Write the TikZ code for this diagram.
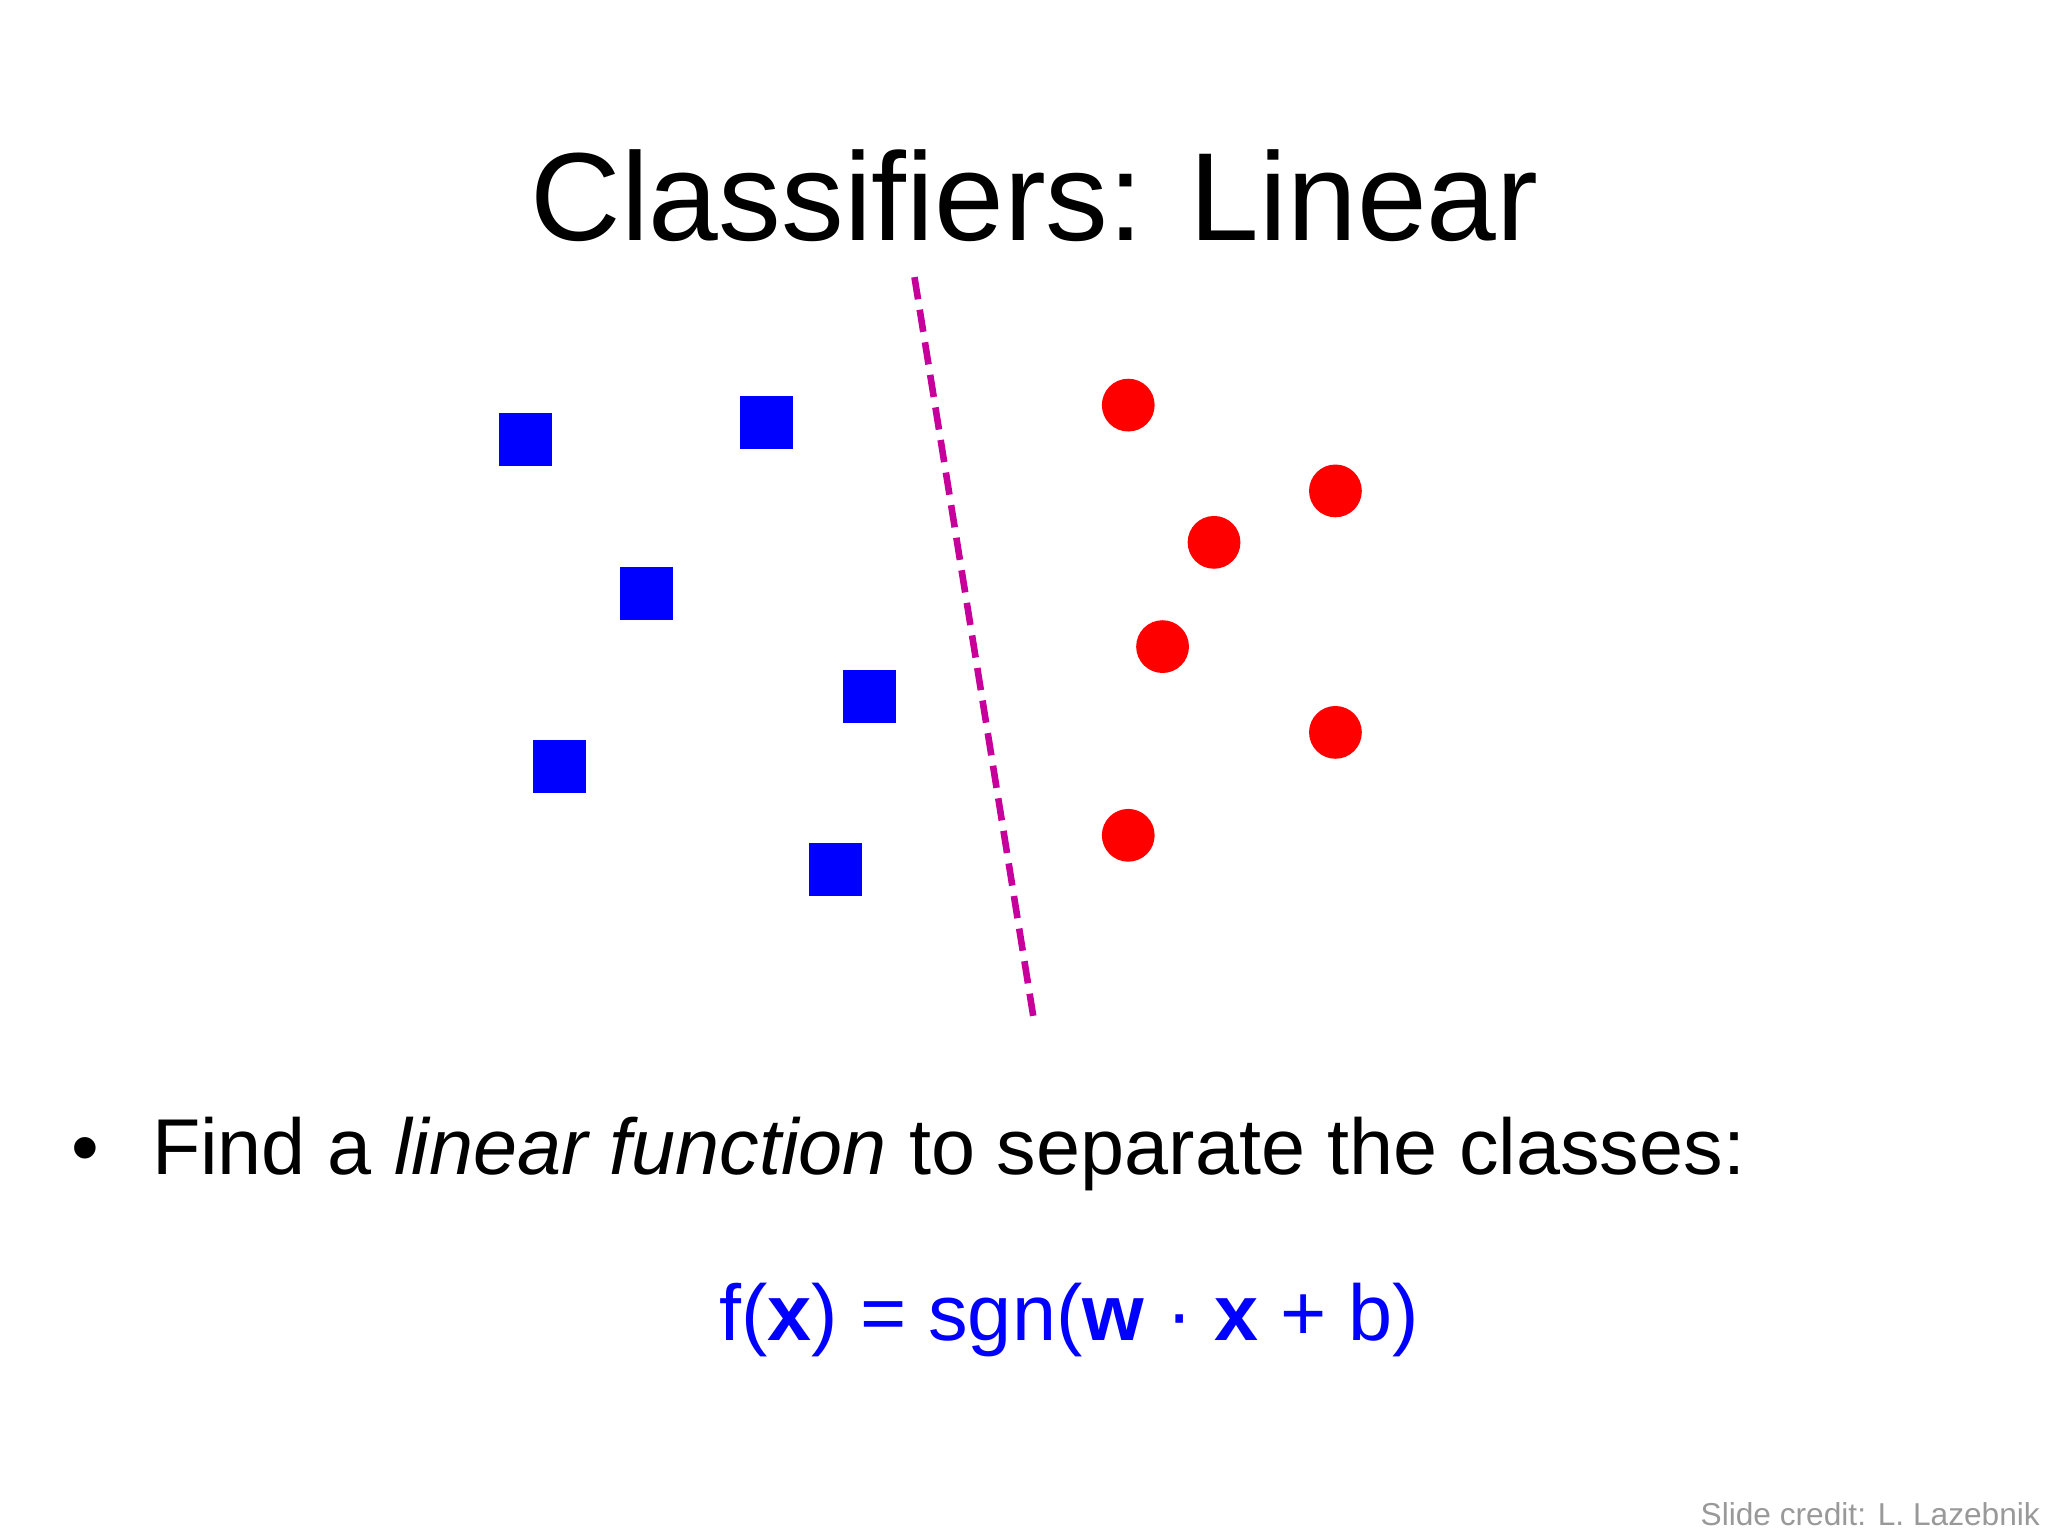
\documentclass[tikz,border=0pt]{standalone}
\usepackage{fontspec}
\setmainfont{Liberation Sans}
\begin{document}
\begin{tikzpicture}[x=1bp,y=-1bp,
  sq/.style={fill=blue,minimum size=40bp,inner sep=0,outer sep=0},
  dot/.style={circle,fill=red,minimum size=40bp,inner sep=0},
  sep/.style={draw={rgb,255:red,200;green,0;blue,155},line width=5bp,dash pattern=on 17bp off 8bp}]
\useasboundingbox (0,0) rectangle (1552,1164);
\node[anchor=base,font=\fontsize{95bp}{110bp}\selectfont] (title) at (784,182) {Classifiers: Linear};
\foreach \n/\x/\y in {s1/398/333,s2/581/320,s3/490/450,s4/659/528,s5/424/581,s6/633/659}
  \node[sq] (\n) at (\x,\y) {};
\foreach \n/\x/\y in {c1/855/307,c2/1012/372,c3/920/411,c4/881/490,c5/1012/555,c6/855/633}
  \node[dot] (\n) at (\x,\y) {};
\coordinate (la) at (693,210);
\coordinate (lb) at (783,770);
\draw[sep] (la) -- (lb);
\node[anchor=base west,inner sep=0,font=\fontsize{60bp}{70bp}\selectfont] (bul) at (54,890) {•};
\node[anchor=base west,inner sep=0,font=\fontsize{60bp}{70bp}\selectfont] (txt) at (115,890) {Find a \textit{linear function} to separate the classes:};
\node[anchor=base west,inner sep=0,text=blue,font=\fontsize{60bp}{70bp}\selectfont] (eq) at (545,1016) {f(\textbf{x}) = sgn(\textbf{w} · \textbf{x} + b)};
\node[anchor=base east,inner sep=0,text=gray!80,font=\fontsize{24bp}{30bp}\selectfont] (cred) at (1546,1156) {Slide credit: L. Lazebnik};
\end{tikzpicture}
\end{document}
